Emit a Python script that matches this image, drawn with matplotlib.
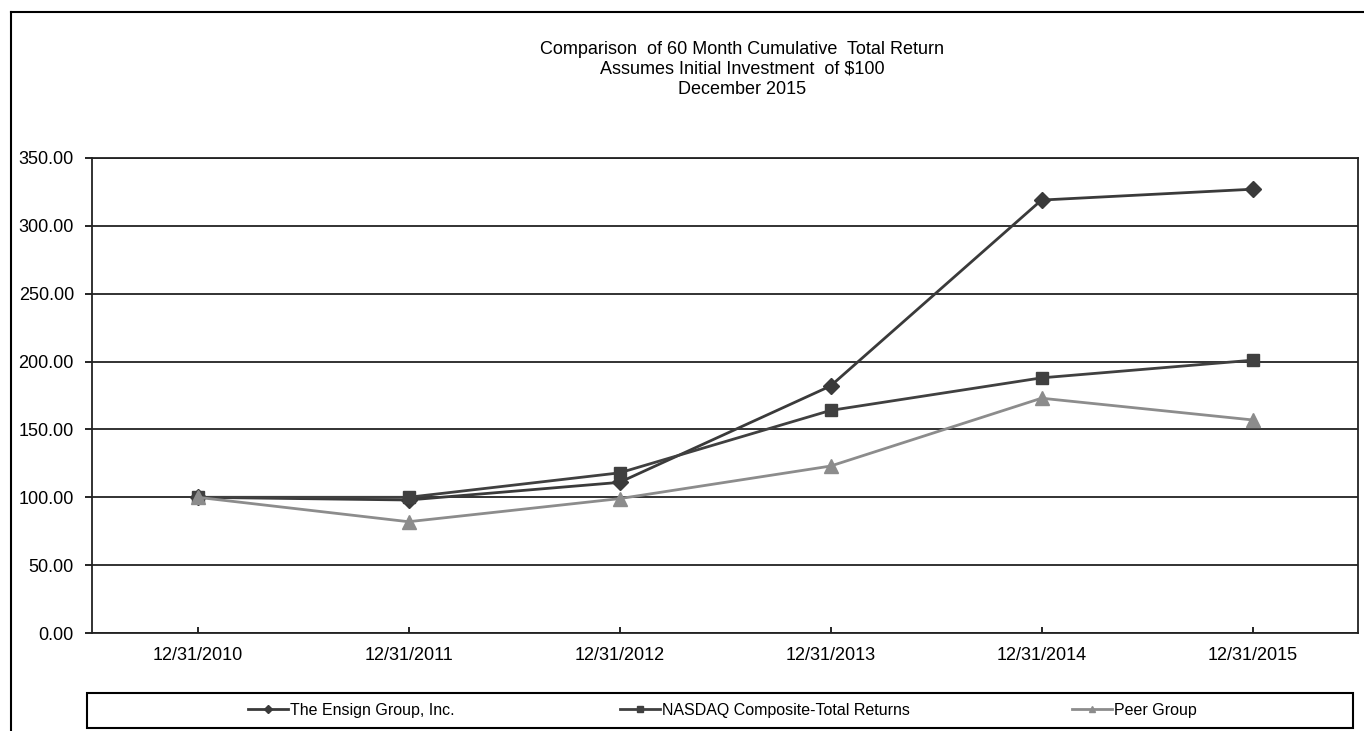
import matplotlib
matplotlib.use("Agg")
import matplotlib.pyplot as plt
from matplotlib.lines import Line2D
from matplotlib.patches import Rectangle

plt.rcParams["font.family"] = ["Liberation Sans", "DejaVu Sans"]

# ── data ──
dates = ["12/31/2010", "12/31/2011", "12/31/2012",
         "12/31/2013", "12/31/2014", "12/31/2015"]
ensign = [100, 98, 111, 182, 319, 327]
nasdaq = [100, 100, 118, 164, 188, 201]
peer = [100, 82, 99, 123, 173, 157]
yticks = [0, 50, 100, 150, 200, 250, 300, 350]

series = [
    ("The Ensign Group, Inc.", ensign, "#3a3a3a", "D", 8),
    ("NASDAQ Composite-Total Returns", nasdaq, "#404040", "s", 8),
    ("Peer Group", peer, "#8c8c8c", "^", 10),
]

W, H = 1364, 731
fig = plt.figure(figsize=(W / 100, H / 100), dpi=100)
ax = fig.add_axes([92 / W, 1 - 633 / H, 1266 / W, 475 / H])

x = list(range(len(dates)))
for name, vals, col, mk, ms in series:
    ax.plot(x, vals, color=col, lw=2, marker=mk, ms=ms,
            markeredgecolor=col, zorder=3)

ax.set_xlim(-0.5, len(dates) - 0.5)
ax.set_ylim(0, 350)
ax.set_yticks(yticks)
ax.set_yticklabels([f"{v:.2f}" for v in yticks], fontsize=13)
ax.set_xticks(x)
ax.set_xticklabels(dates, fontsize=13)
ax.tick_params(axis="y", direction="out", length=5, width=1.2, pad=8)
ax.tick_params(axis="x", direction="in", length=4, width=1.2, pad=10)
ax.grid(axis="y", color="#222222", lw=1.3)
ax.set_axisbelow(True)
for sp in ax.spines.values():
    sp.set_linewidth(1.3)
    sp.set_color("#222222")

# ── title ──
fig.text(742 / W, 1 - 41 / H,
         "Comparison  of 60 Month Cumulative  Total Return\n"
         "Assumes Initial Investment  of $100\nDecember 2015",
         ha="center", va="top", fontsize=13, linespacing=1.22,
         transform=fig.transFigure)

# ── outer frame (right and bottom edges cut off in the source) ──
fig.add_artist(Line2D([11 / W, 1.0], [1 - 12 / H, 1 - 12 / H],
                      color="black", lw=1.5, transform=fig.transFigure))
fig.add_artist(Line2D([11 / W, 11 / W], [1 - 12 / H, 0.0],
                      color="black", lw=1.5, transform=fig.transFigure))

# ── legend box with three entries ──
fig.add_artist(Rectangle((87 / W, 1 - 728 / H), 1266 / W, 35 / H,
                         fill=False, ec="black", lw=1.5,
                         transform=fig.transFigure))
starts = [248, 620, 1072]
for (name, vals, col, mk, ms), xs in zip(series, starts):
    h = Line2D([], [], color=col, lw=2, marker=mk, ms=4, markeredgecolor=col)
    fig.legend([h], [name], loc="center left",
               bbox_to_anchor=(xs / W, 1 - 710 / H), frameon=False,
               fontsize=11.5, handlelength=2.5, handletextpad=0.1,
               borderpad=0, borderaxespad=0)

fig.savefig("out.png", dpi=100)
